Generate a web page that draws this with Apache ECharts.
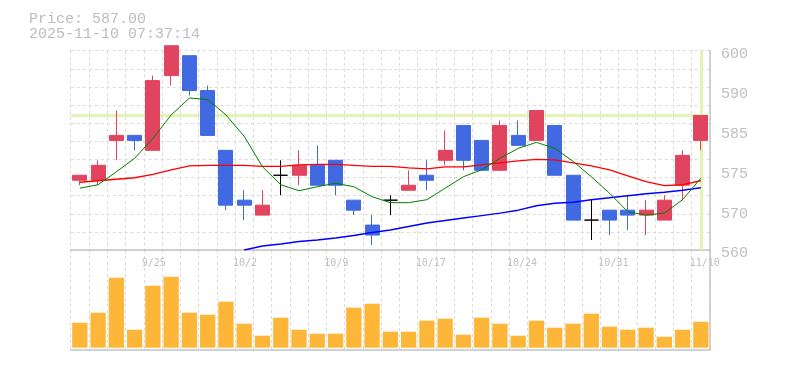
<!DOCTYPE html>
<html><head><meta charset="utf-8">
<script src="https://cdn.jsdelivr.net/npm/echarts@6/dist/echarts.min.js"></script>
<style>html,body{margin:0;padding:0;background:#fff}#c{width:785px;height:370px}</style>
</head><body><div id="c"></div>
<script>
const dates = ['9/18','9/19','9/22','9/24','9/25','9/26','9/29','9/30','10/1','10/2','10/3','10/6','10/7','10/8','10/9','10/10','10/14','10/15','10/16','10/17','10/20','10/21','10/22','10/23','10/24','10/27','10/28','10/29','10/30','10/31','11/4','11/5','11/6','11/7','11/10'];
const opens  = [574,574,582,583,580,595,599,592,580,570,567,575,575,577,578,570,565,570,572,575,578,585,582,576,583,582,585,575,566,568,568,567,566,573,582];
const closes = [575,577,583,582,594,601,592,583,569,569,569,575,577,573,573,568,563,570,573,574,580,578,576,585,581,588,575,566,566,566,567,568,570,579,587];
const highs  = [575,578,588,583,595,601,599,593,580,572,572,578,580,581,578,570,567,571,576,578,584,585,582,586,586,588,585,575,570,568,571,570,571,580,587];
const lows   = [573,573,578,580,580,593,591,583,568,566,567,571,573,573,571,567,561,567,572,572,577,576,576,576,581,582,575,566,562,563,564,563,566,570,580];
const ma5  = [572.4,573.1,575.7,578.4,582.4,587.1,590.5,590.2,587.1,582.8,576.7,573.1,571.9,572.7,573.4,572.7,570.7,569.5,569.5,570.1,572.4,574.7,576.1,578.4,580.4,581.6,580.4,577.8,574.7,571.4,567.7,567.0,567.4,570.1,574.4];
const ma25 = [573.6,573.9,574.2,574.5,575.2,576.1,576.9,577.0,577.0,577.0,576.8,576.8,577.1,577.2,577.2,577.0,576.8,576.8,576.5,576.3,576.7,576.7,577.1,577.5,577.9,578.2,578.1,577.5,576.9,576.1,574.9,573.7,572.9,573.1,573.9];
const ma75 = [null,null,null,null,null,null,null,null,null,560.0,560.8,561.2,561.7,562.0,562.4,562.9,563.5,564.0,564.7,565.4,565.9,566.4,566.9,567.4,568.0,568.9,569.4,569.6,570.1,570.5,570.9,571.3,571.6,572.0,572.5];
const volumes = [2500,3500,7000,1800,6200,7100,3500,3300,4600,2400,1200,3000,1800,1400,1400,4000,4400,1600,1600,2700,2900,1300,3000,2400,1200,2700,2000,2400,3400,2100,1800,2000,1100,1800,2600];
const yTickLabels = ['560','570','575','585','590','600'];
const currentPrice = 587;
const timestamp = '2025-11-10 07:37:14';

const chart = echarts.init(document.getElementById('c'), null, {renderer:'canvas'});
const gray = '#c4c4c4';
const gridLine = {show:true, interval:0, lineStyle:{color:'#dadada', type:[3,3], width:1}};
const candleData = dates.map((d,i)=>{
  const item = {value:[opens[i], closes[i], lows[i], highs[i]]};
  if (opens[i]===closes[i]) item.itemStyle = {color:'#000',color0:'#000',borderColor:'#000',borderColor0:'#000',borderColorDoji:'#000'};
  return item;
});
const option = {
  animation:false,
  backgroundColor:'#fff',
  title:{text:'Price: '+currentPrice.toFixed(2)+'\n'+timestamp, left:29, top:12, padding:0,
    textStyle:{fontFamily:'Liberation Mono', fontSize:15, fontWeight:'normal', color:'#bdbdbd', lineHeight:15}},
  grid:[{left:70.7, right:75, top:50.7, height:199.3},{left:70.7, right:75, top:250, height:100}],
  xAxis:[
    {type:'category', gridIndex:0, data:dates, boundaryGap:true,
     axisLine:{onZero:false, lineStyle:{color:gray, width:1.5}}, axisTick:{show:false},
     axisLabel:{interval:(i)=>i%5===4, formatter:(v)=>'{l|'+v+'}', margin:8,
       rich:{l:{width:22.4, align:'left', color:'#c0c0c0', fontFamily:'DejaVu Sans Mono', fontSize:10}}},
     splitLine:gridLine},
    {type:'category', gridIndex:1, data:dates, boundaryGap:true,
     axisLine:{onZero:false, lineStyle:{color:gray, width:1.5}}, axisTick:{show:false},
     axisLabel:{show:false}, splitLine:gridLine}
  ],
  yAxis:[
    {type:'value', gridIndex:0, position:'right', min:560, max:600, interval:8,
     axisLine:{show:true, lineStyle:{color:gray, width:1.5}}, axisTick:{show:false}, splitLine:{show:false},
     axisLabel:{formatter:(v)=>'{y|'+yTickLabels[Math.round((v-560)/8)]+'}', margin:11,
       rich:{y:{color:'#c0c0c0', fontFamily:'Liberation Mono', fontSize:15, padding:[7,0,0,0]}}}},
    {type:'value', gridIndex:0, position:'left', min:0, max:11, interval:1,
     axisLine:{show:false}, axisTick:{show:false}, axisLabel:{show:false},
     splitLine:{show:true, lineStyle:{color:'#dadada', type:[3,3], width:1}}},
    {type:'value', gridIndex:1, position:'right', min:-230, max:9770,
     axisLine:{show:true, lineStyle:{color:gray, width:1.5}}, axisTick:{show:false}, axisLabel:{show:false}, splitLine:{show:false}}
  ],
  series:[
    {type:'line', xAxisIndex:0, yAxisIndex:0, data:[], z:1,
     markLine:{silent:true, z:1, symbol:['none','none'], label:{show:false},
       lineStyle:{color:'#e4f4b4', width:3, type:'solid'},
       data:[{yAxis:currentPrice},{xAxis:dates[dates.length-1]}]}},
    {type:'candlestick', xAxisIndex:0, yAxisIndex:0, data:candleData, barWidth:14.5, clip:false, z:3,
     itemStyle:{color:'#e0445e', color0:'#4169e1', borderColor:'#e0445e', borderColor0:'#4169e1', borderWidth:1}},
    {type:'line', xAxisIndex:0, yAxisIndex:0, data:ma75, symbol:'none', z:4, lineStyle:{color:'#0000ff', width:1.5}},
    {type:'line', xAxisIndex:0, yAxisIndex:0, data:ma25, symbol:'none', z:4, lineStyle:{color:'#ff0000', width:1.3}},
    {type:'line', xAxisIndex:0, yAxisIndex:0, data:ma5, symbol:'none', z:5, lineStyle:{color:'#008000', width:1}},
    {type:'bar', xAxisIndex:1, yAxisIndex:2, data:volumes, barWidth:15.3, itemStyle:{color:'#fdb637'}}
  ]
};
chart.setOption(option);
</script></body></html>
